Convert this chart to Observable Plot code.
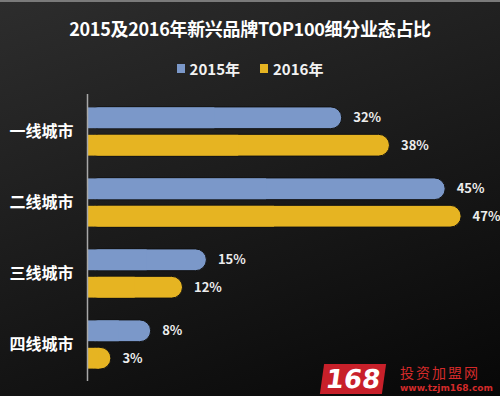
<!DOCTYPE html>
<html>
<head>
<meta charset="utf-8">
<script src="https://cdn.jsdelivr.net/npm/d3@7"></script>
<script src="https://cdn.jsdelivr.net/npm/@observablehq/plot@0.6"></script>
<style>
  html, body { margin: 0; padding: 0; }
  body { width: 500px; height: 396px; overflow: hidden; }
  #wrap {
    position: relative; width: 500px; height: 396px; box-sizing: border-box;
    background: linear-gradient(160deg, #2d2d2d 0%, #1c1c1c 45%, #070707 100%);
    border-top: 2px solid #7a7a7a;
    font-family: "Noto Sans CJK SC", "Noto Sans", sans-serif;
    color: #fff;
  }
  #title {
    position: absolute; left: 0; top: 13px; width: 500px; text-align: center;
    font-size: 18px; font-weight: bold; letter-spacing: -0.3px;
  }
  #legend {
    position: absolute; left: 0; top: 56px; width: 500px; display: flex;
    justify-content: center; gap: 20px; font-size: 15px; font-weight: bold; color: #f2f2f2;
  }
  #legend span { display: inline-flex; align-items: center; }
  #legend i { display: inline-block; width: 8px; height: 9px; margin-right: 5px; }
  #chart { position: absolute; left: 0; top: 81px; }
  #wm { position: absolute; left: 322px; top: 362px; font-family: "DejaVu Sans", sans-serif; }
  #wm .num { position:absolute; left:0; top:0; background:#c8202a; color:#fff; font-weight:bold; font-size:26px; line-height:30px; padding:0 4px; transform: skewX(-8deg); }
  #wm .cn { position:absolute; left:78px; top:0; white-space:nowrap; color:#d42a2a; font-size:14px; line-height:16px; font-family:"Noto Sans CJK SC"; letter-spacing:2px; }
  #wm .url { position:absolute; left:78px; top:19px; white-space:nowrap; color:#d42a2a; font-size:9px; line-height:10px; font-weight:bold; }
</style>
</head>
<body>
<div id="wrap">
  <div id="title">2015及2016年新兴品牌TOP100细分业态占比</div>
  <div id="legend"></div>
  <div id="chart"></div>
  <div id="wm"><span class="num">168</span><span class="cn">投资加盟网</span><span class="url">www.tzjm168.com</span></div>
</div>
<script>
const cities = ["一线城市", "二线城市", "三线城市", "四线城市"];
const years = ["2015年", "2016年"];
const values2015 = [32, 45, 15, 8];
const values2016 = [38, 47, 12, 3];
const colors = ["#7b98c9", "#e6b422"];

const legend = document.getElementById("legend");
years.forEach((y, i) => {
  const s = document.createElement("span");
  s.innerHTML = `<i style="background:${colors[i]}"></i>${y}`;
  legend.appendChild(s);
});

const d15 = cities.map((c, i) => ({city: c, v: values2015[i]}));
const d16 = cities.map((c, i) => ({city: c, v: values2016[i]}));

const inset = 24.6;
const off = 13.7;
const r = 11;

function barsFor(data, color, dy) {
  return [
    Plot.barX(data, {x: "v", y: "city", fill: color, rx: r, insetTop: inset, insetBottom: inset, dy, stroke: "#111", strokeWidth: 1}),
    Plot.barX(data, {x1: 0, x2: d => d.v / 2, y: "city", fill: color, insetTop: inset + 0.5, insetBottom: inset + 0.5, insetLeft: 0.5, dy}),
    Plot.text(data, {x: "v", y: "city", text: d => d.v + "%", dx: 11, dy, textAnchor: "start", fill: "#ececec", fontSize: 13, fontWeight: "bold"})
  ];
}

const plot = Plot.plot({
  width: 500,
  height: 313,
  marginLeft: 87,
  marginRight: 15,
  marginTop: 11,
  marginBottom: 15,
  style: {background: "transparent", fontFamily: "'Noto Sans CJK SC', sans-serif", overflow: "visible"},
  x: {domain: [0, 50], axis: null},
  y: {domain: cities, padding: 0, label: null, tickSize: 0, tickPadding: 14},
  marks: [
    ...barsFor(d15, colors[0], -off),
    ...barsFor(d16, colors[1], off),
    Plot.ruleX([0], {stroke: "#a8a8a8", strokeWidth: 1.5}),
    Plot.axisY({tickSize: 0, tickPadding: 14, fontSize: 16, fontWeight: "bold", fill: "#fff", label: null})
  ]
});
document.getElementById("chart").appendChild(plot);
</script>
</body>
</html>
